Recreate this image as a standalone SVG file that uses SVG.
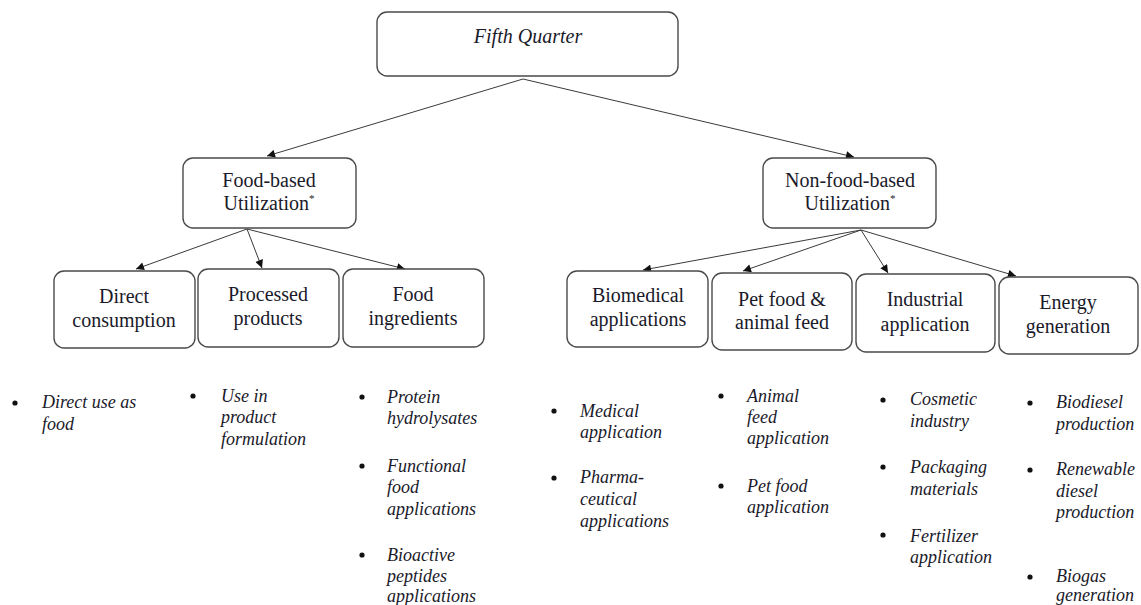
<svg xmlns="http://www.w3.org/2000/svg" width="1141" height="605" viewBox="0 0 1141 605">
<defs>
<style>
.box{fill:#fff;stroke:#4a4a4a;stroke-width:1.4}
.bt{font-size:20px;fill:#1a1a2a;text-anchor:middle}
.it{font-size:18px;font-style:italic;fill:#1a1a2a}
.con{stroke:#3a3a3a;stroke-width:1;fill:none;marker-end:url(#ah)}
.dot{fill:#111}
</style>
<marker id="ah" viewBox="0 0 10 10" refX="10" refY="5" markerWidth="9" markerHeight="8" markerUnits="userSpaceOnUse" orient="auto">
<path d="M0,0 L10,5 L0,10 z" fill="#111"/>
</marker>
</defs>
<rect width="1141" height="605" fill="#fff"/>

<g id="connectors">
<line class="con" x1="523" y1="79" x2="267" y2="156"/>
<line class="con" x1="523" y1="79" x2="854" y2="157"/>
<line class="con" x1="247" y1="229" x2="136" y2="269"/>
<line class="con" x1="247" y1="229" x2="262" y2="268"/>
<line class="con" x1="247" y1="229" x2="405" y2="269"/>
<line class="con" x1="861" y1="230" x2="643" y2="270"/>
<line class="con" x1="861" y1="230" x2="743" y2="271"/>
<line class="con" x1="861" y1="230" x2="888" y2="273"/>
<line class="con" x1="861" y1="230" x2="1016" y2="276"/>
</g>

<g font-family="Liberation Serif, Times New Roman, serif">
<g id="fifth-quarter">
<rect class="box" x="377" y="12" width="301" height="64" rx="10"/>
<text class="bt" x="528" y="43" font-style="italic">Fifth Quarter</text>
</g>

<g id="food-based">
<rect class="box" x="183" y="158" width="173" height="70" rx="10"/>
<text class="bt" x="269" y="187">Food-based</text>
<text class="bt" x="269" y="210">Utilization<tspan font-size="11" dy="-8">*</tspan></text>
</g>

<g id="non-food-based">
<rect class="box" x="763" y="158" width="173" height="70" rx="10"/>
<text class="bt" x="850" y="187">Non-food-based</text>
<text class="bt" x="850" y="210">Utilization<tspan font-size="11" dy="-8">*</tspan></text>
</g>

<g id="direct-consumption">
<rect class="box" x="54" y="271" width="141" height="77" rx="10"/>
<text class="bt" x="124" y="303">Direct</text>
<text class="bt" x="124" y="327">consumption</text>
</g>

<g id="processed-products">
<rect class="box" x="198" y="269" width="141" height="78" rx="10"/>
<text class="bt" x="268" y="301">Processed</text>
<text class="bt" x="268" y="325">products</text>
</g>

<g id="food-ingredients">
<rect class="box" x="343" y="269" width="141" height="78" rx="10"/>
<text class="bt" x="413" y="301">Food</text>
<text class="bt" x="413" y="325">ingredients</text>
</g>

<g id="biomedical">
<rect class="box" x="567" y="271" width="141" height="76" rx="10"/>
<text class="bt" x="638" y="302">Biomedical</text>
<text class="bt" x="638" y="326">applications</text>
</g>

<g id="pet-food">
<rect class="box" x="712" y="273" width="140" height="77" rx="10"/>
<text class="bt" x="782" y="306">Pet food &amp;</text>
<text class="bt" x="782" y="329">animal feed</text>
</g>

<g id="industrial">
<rect class="box" x="856" y="274" width="139" height="78" rx="10"/>
<text class="bt" x="925" y="306">Industrial</text>
<text class="bt" x="925" y="331">application</text>
</g>

<g id="energy">
<rect class="box" x="999" y="277" width="139" height="77" rx="10"/>
<text class="bt" x="1068" y="309">Energy</text>
<text class="bt" x="1068" y="333">generation</text>
</g>

<g id="list-direct">
<circle class="dot" cx="15" cy="403" r="2.6"/>
<text class="it" x="42" y="408">Direct use as</text>
<text class="it" x="42" y="430">food</text>
</g>

<g id="list-processed">
<circle class="dot" cx="193" cy="396" r="2.6"/>
<text class="it" x="221" y="402">Use in</text>
<text class="it" x="221" y="423">product</text>
<text class="it" x="221" y="445">formulation</text>
</g>

<g id="list-ingredients">
<circle class="dot" cx="362" cy="397" r="2.6"/>
<text class="it" x="387" y="403">Protein</text>
<text class="it" x="387" y="424">hydrolysates</text>
<circle class="dot" cx="362" cy="466" r="2.6"/>
<text class="it" x="387" y="472">Functional</text>
<text class="it" x="387" y="493">food</text>
<text class="it" x="387" y="515">applications</text>
<circle class="dot" cx="362" cy="555" r="2.6"/>
<text class="it" x="387" y="561">Bioactive</text>
<text class="it" x="387" y="582">peptides</text>
<text class="it" x="387" y="602">applications</text>
</g>

<g id="list-biomedical">
<circle class="dot" cx="554" cy="411" r="2.6"/>
<text class="it" x="580" y="417">Medical</text>
<text class="it" x="580" y="438">application</text>
<circle class="dot" cx="554" cy="478" r="2.6"/>
<text class="it" x="580" y="483">Pharma-</text>
<text class="it" x="580" y="505">ceutical</text>
<text class="it" x="580" y="527">applications</text>
</g>

<g id="list-petfood">
<circle class="dot" cx="721" cy="396" r="2.6"/>
<text class="it" x="747" y="402">Animal</text>
<text class="it" x="747" y="423">feed</text>
<text class="it" x="747" y="444">application</text>
<circle class="dot" cx="721" cy="486" r="2.6"/>
<text class="it" x="747" y="492">Pet food</text>
<text class="it" x="747" y="513">application</text>
</g>

<g id="list-industrial">
<circle class="dot" cx="883" cy="400" r="2.6"/>
<text class="it" x="910" y="405">Cosmetic</text>
<text class="it" x="910" y="427">industry</text>
<circle class="dot" cx="883" cy="467" r="2.6"/>
<text class="it" x="910" y="473">Packaging</text>
<text class="it" x="910" y="495">materials</text>
<circle class="dot" cx="883" cy="535" r="2.6"/>
<text class="it" x="910" y="542">Fertilizer</text>
<text class="it" x="910" y="563">application</text>
</g>

<g id="list-energy">
<circle class="dot" cx="1030" cy="403" r="2.6"/>
<text class="it" x="1056" y="408">Biodiesel</text>
<text class="it" x="1056" y="430">production</text>
<circle class="dot" cx="1030" cy="470" r="2.6"/>
<text class="it" x="1056" y="475">Renewable</text>
<text class="it" x="1056" y="497">diesel</text>
<text class="it" x="1056" y="518">production</text>
<circle class="dot" cx="1030" cy="577" r="2.6"/>
<text class="it" x="1056" y="582">Biogas</text>
<text class="it" x="1056" y="601">generation</text>
</g>
</g>
</svg>
